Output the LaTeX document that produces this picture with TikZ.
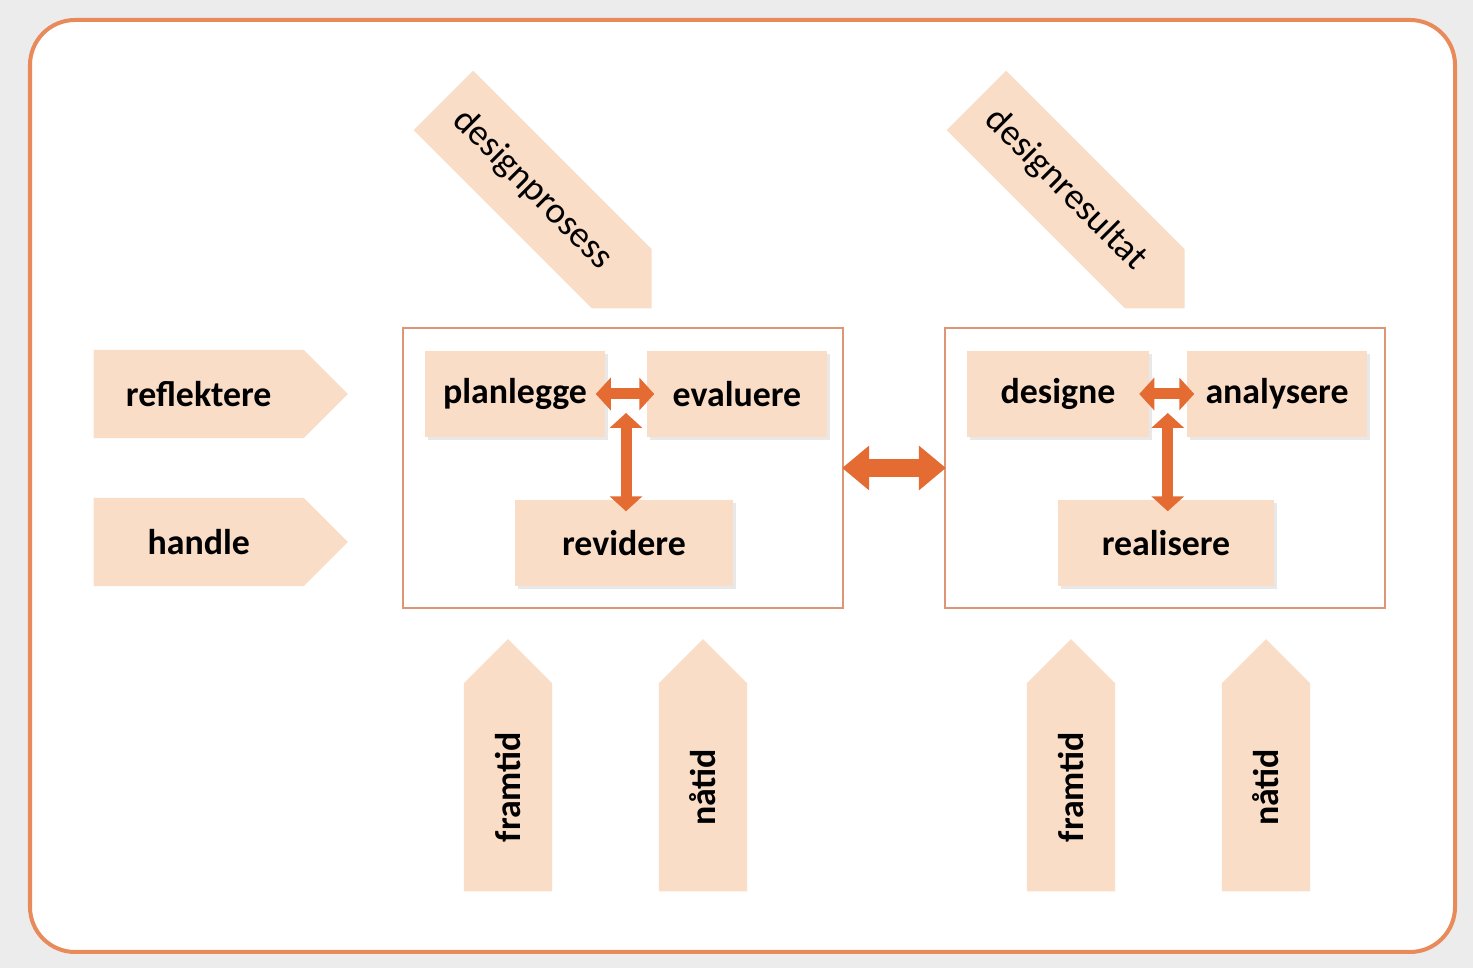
\documentclass[tikz,border=0pt]{standalone}
\usepackage{fontspec}
\setmainfont{Carlito}
\usetikzlibrary{arrows.meta,calc,shadows,shapes.arrows}
\definecolor{peach}{RGB}{250,221,198}
\definecolor{frameorange}{RGB}{232,138,90}
\definecolor{boxline}{RGB}{220,150,118}
\definecolor{arroworange}{RGB}{228,108,50}
\definecolor{bggray}{RGB}{236,236,236}
\tikzset{
  stagebox/.style={fill=peach, minimum height=0.86cm, inner sep=0pt,
    font=\fontsize{10.2}{12}\selectfont\bfseries,
    drop shadow={opacity=0.15, fill=black!60, shadow xshift=0.03cm, shadow yshift=-0.03cm}},
  groupbox/.style={draw=boxline, line width=0.02cm, fill=white,
    minimum width=4.4cm, minimum height=2.8cm, inner sep=0pt},
  tag/.style={single arrow, single arrow head extend=0pt, single arrow tip angle=90,
    fill=peach, minimum width=0.88cm, minimum height=2.54cm, inner sep=0pt, anchor=tail,
    font=\fontsize{10.2}{12}\selectfont\bfseries},
  linkarrow/.style={arroworange, line width=0.11cm,
    {Triangle[length=0.15cm,width=0.32cm]}-{Triangle[length=0.15cm,width=0.32cm]}},
  bigarrow/.style={arroworange, line width=0.18cm,
    {Triangle[length=0.27cm,width=0.43cm]}-{Triangle[length=0.27cm,width=0.43cm]}},
}
\begin{document}
\begin{tikzpicture}[x=0.01cm, y=-0.01cm]
  \useasboundingbox (0,0) rectangle (1473,968);
  \fill[bggray] (0,0) rectangle (1473,968);
  \draw[frameorange, line width=0.04cm, rounded corners=0.45cm, fill=white] (30,20) rectangle (1455,952);

  % left tags
  \node[tag] (reflektere) at (93,394) {reflektere};
  \node[tag] (handle) at (93,542) {handle};

  % process group
  \node[groupbox] (prosess) at (623,468) {};
  \node[stagebox, minimum width=1.8cm] (planlegge) at (515,394) {planlegge};
  \node[stagebox, minimum width=1.8cm] (evaluere) at (737,394) {evaluere};
  \node[stagebox, minimum width=2.18cm] (revidere) at (624,543) {revidere};

  % result group
  \node[groupbox] (resultat) at (1165,468) {};
  \node[stagebox, minimum width=1.81cm] (designe) at (1058,394) {designe};
  \node[stagebox, minimum width=1.8cm] (analysere) at (1277,394) {analysere};
  \node[stagebox, minimum width=2.16cm] (realisere) at (1166,543) {realisere};

  % diagonal tags
  \node[tag, rotate=-45, minimum width=0.84cm, minimum height=2.94cm,
    font=\fontsize{10.5}{12}\selectfont] (designprosess) at (443,100) {designprosess};
  \node[tag, rotate=-45, minimum width=0.84cm, minimum height=2.94cm,
    font=\fontsize{10.5}{12}\selectfont] (designresultat) at (976,100) {designresultat};

  % bottom tags
  \node[tag, rotate=90, minimum height=2.52cm] (framtidA) at (508,892) {framtid};
  \node[tag, rotate=90, minimum height=2.52cm] (naatidA) at (703,892) {nåtid};
  \node[tag, rotate=90, minimum height=2.52cm] (framtidB) at (1071,892) {framtid};
  \node[tag, rotate=90, minimum height=2.52cm] (naatidB) at (1266,892) {nåtid};

  % arrows
  \coordinate (hubA) at ($(planlegge.east)!0.5!(evaluere.west)+(0,19)$);
  \coordinate (hubB) at ($(designe.east)!0.5!(analysere.west)+(0,19)$);
  \draw[linkarrow, shorten <=-0.1cm, shorten >=-0.08cm] (planlegge.east) -- (evaluere.west);
  \draw[linkarrow, shorten >=-0.12cm] (hubA) -- (hubA |- revidere.north);
  \draw[linkarrow, shorten <=-0.1cm, shorten >=-0.08cm] (designe.east) -- (analysere.west);
  \draw[linkarrow, shorten >=-0.12cm] (hubB) -- (hubB |- realisere.north);
  \draw[bigarrow, shorten <=-0.02cm, shorten >=-0.02cm] (prosess.east) -- (resultat.west);
\end{tikzpicture}
\end{document}
